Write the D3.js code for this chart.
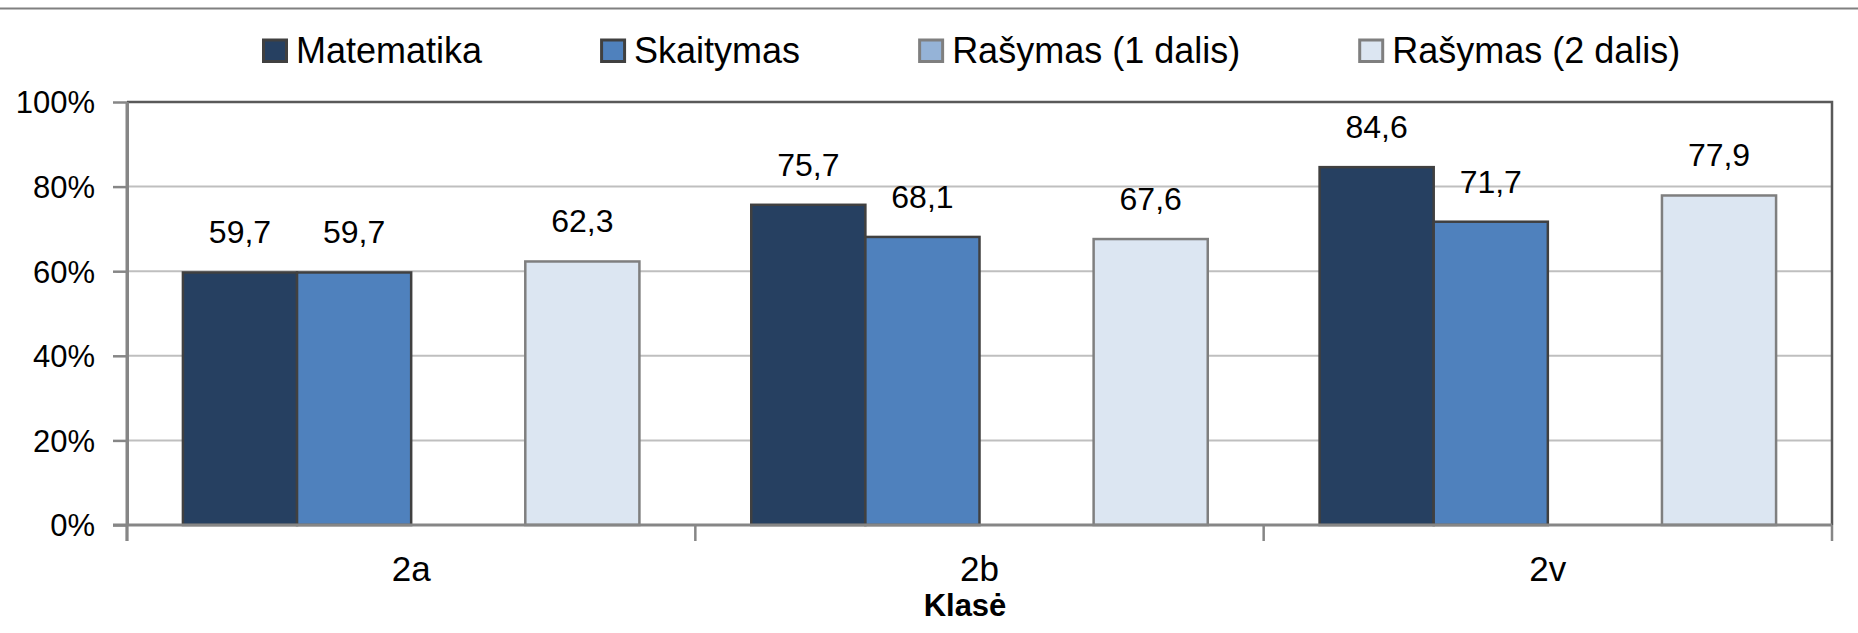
<!DOCTYPE html>
<html>
<head>
<meta charset="utf-8">
<script src="https://cdn.jsdelivr.net/npm/d3@7"></script>
<style>
	body{margin:0;background:#fff;}
	svg text{font-family:"Liberation Sans",Arial,sans-serif;fill:#000;}
</style>
</head>
<body>
<div class="chart"></div>
<script>
const classes=['2a','2b','2v']
const seriesNames=['Matematika','Skaitymas','Rašymas (1 dalis)','Rašymas (2 dalis)']
const matematika=[59.7,75.7,84.6]
const skaitymas=[59.7,68.1,71.7]
const rasymas1=[null,null,null]
const rasymas2=[62.3,67.6,77.9]
const yTicks=[0,20,40,60,80,100]

const seriesValues=[matematika,skaitymas,rasymas1,rasymas2]
const fills=['#264061','#4f81bd','#95b3d7','#dce6f2']
const strokes=['#404040','#404040','#7f7f7f','#7f7f7f']

const W=1858,H=633
const margin=({top:102,right:26,bottom:108,left:127})
const width=W-margin.left-margin.right,
	height=H-margin.top-margin.bottom

let svg=d3.select('.chart').append('svg')
	.attr('width',W)
	.attr('height',H)

// top border line of the frame
svg.append('line')
	.attr('x1',0).attr('x2',W)
	.attr('y1',8.5).attr('y2',8.5)
	.attr('stroke','#808080')
	.attr('stroke-width',2)

let g=svg.append('g')
	.attr('transform','translate('+margin.left+','+margin.top+')')

let x=d3.scaleBand()
	.domain(classes)
	.range([0,width])

let xInner=d3.scaleBand()
	.domain(seriesNames)
	.range([0,x.bandwidth()])
	.paddingInner(0)
	.paddingOuter(0.49)

let y=d3.scaleLinear()
	.domain([0,100])
	.range([height,0])

// gridlines
g.selectAll('.grid')
	.data(yTicks.filter(d=>d>0&&d<100))
	.enter()
	.append('line')
	.attr('class','grid')
	.attr('x1',0).attr('x2',width)
	.attr('y1',d=>y(d)).attr('y2',d=>y(d))
	.attr('stroke','#bfbfbf')
	.attr('stroke-width',2)

// plot area top and right border
g.append('path')
	.attr('d','M0,'+y(100)+'H'+width+'V'+height)
	.attr('fill','none')
	.attr('stroke','#595959')
	.attr('stroke-width',2.5)

// bars
let rows=[]
classes.forEach((c,i)=>{
	seriesNames.forEach((s,j)=>{
		if(seriesValues[j][i]!=null) rows.push({cls:c,series:s,idx:j,value:seriesValues[j][i]})
	})
})

g.selectAll('.bar')
	.data(rows)
	.enter()
	.append('rect')
	.attr('class','bar')
	.attr('x',d=>x(d.cls)+xInner(d.series))
	.attr('y',d=>y(d.value))
	.attr('width',xInner.bandwidth())
	.attr('height',d=>height-y(d.value))
	.attr('fill',d=>fills[d.idx])
	.attr('stroke',d=>strokes[d.idx])
	.attr('stroke-width',2.5)

g.selectAll('.val')
	.data(rows)
	.enter()
	.append('text')
	.attr('class','val')
	.attr('x',d=>x(d.cls)+xInner(d.series)+xInner.bandwidth()/2)
	.attr('y',d=>y(d.value)-29)
	.attr('text-anchor','middle')
	.attr('font-size',32)
	.text(d=>d3.format('.1f')(d.value).replace('.',','))

// y axis
const yAxis=d3.axisLeft(y)
	.tickValues(yTicks)
	.tickSize(14)
	.tickSizeOuter(0)
	.tickPadding(18)
	.tickFormat(d=>d+'%')

let ya=g.append('g')
	.attr('class','axis y-axis')
	.call(yAxis)
ya.select('.domain').attr('stroke','#868686').attr('stroke-width',3)
ya.selectAll('.tick line').attr('stroke','#868686').attr('stroke-width',2.5)
ya.selectAll('.tick text')
	.attr('font-size',31)
	.attr('font-family','"Liberation Sans",Arial,sans-serif')
	.attr('dy','0.35em')

// y axis line extends a bit under the baseline
g.append('line')
	.attr('x1',0).attr('x2',0)
	.attr('y1',0).attr('y2',height+16)
	.attr('stroke','#868686')
	.attr('stroke-width',3)

// x axis
const xAxis=d3.axisBottom(x)
	.tickSize(0)
	.tickPadding(31)

let xa=g.append('g')
	.attr('class','axis x-axis')
	.attr('transform','translate(0,'+height+')')
	.call(xAxis)
xa.select('.domain').remove()
xa.selectAll('.tick text')
	.attr('font-size',35)
	.attr('font-family','"Liberation Sans",Arial,sans-serif')
	.attr('dy','0.71em')

g.append('line')
	.attr('x1',-14).attr('x2',width)
	.attr('y1',height).attr('y2',height)
	.attr('stroke','#868686')
	.attr('stroke-width',3)

g.selectAll('.xtick')
	.data(classes.concat(['end']))
	.enter()
	.append('line')
	.attr('class','xtick')
	.attr('x1',(d,i)=>i*x.step()).attr('x2',(d,i)=>i*x.step())
	.attr('y1',height).attr('y2',height+16)
	.attr('stroke','#868686')
	.attr('stroke-width',2.5)

svg.append('text')
	.attr('x',965)
	.attr('y',616)
	.attr('text-anchor','middle')
	.attr('font-size',31)
	.attr('font-weight','bold')
	.text('Klasė')

// legend
let legend=svg.append('g').attr('class','legend')
let lx=262
seriesNames.forEach((s,i)=>{
	let item=legend.append('g').attr('transform','translate('+lx+',0)')
	item.append('rect')
		.attr('x',1.5).attr('y',40)
		.attr('width',23).attr('height',21.5)
		.attr('fill',fills[i])
		.attr('stroke',strokes[i])
		.attr('stroke-width',3)
	let t=item.append('text')
		.attr('x',34)
		.attr('y',63)
		.attr('font-size',36)
		.text(s)
	lx+=34+t.node().getComputedTextLength()+118
})
</script>
</body>
</html>
